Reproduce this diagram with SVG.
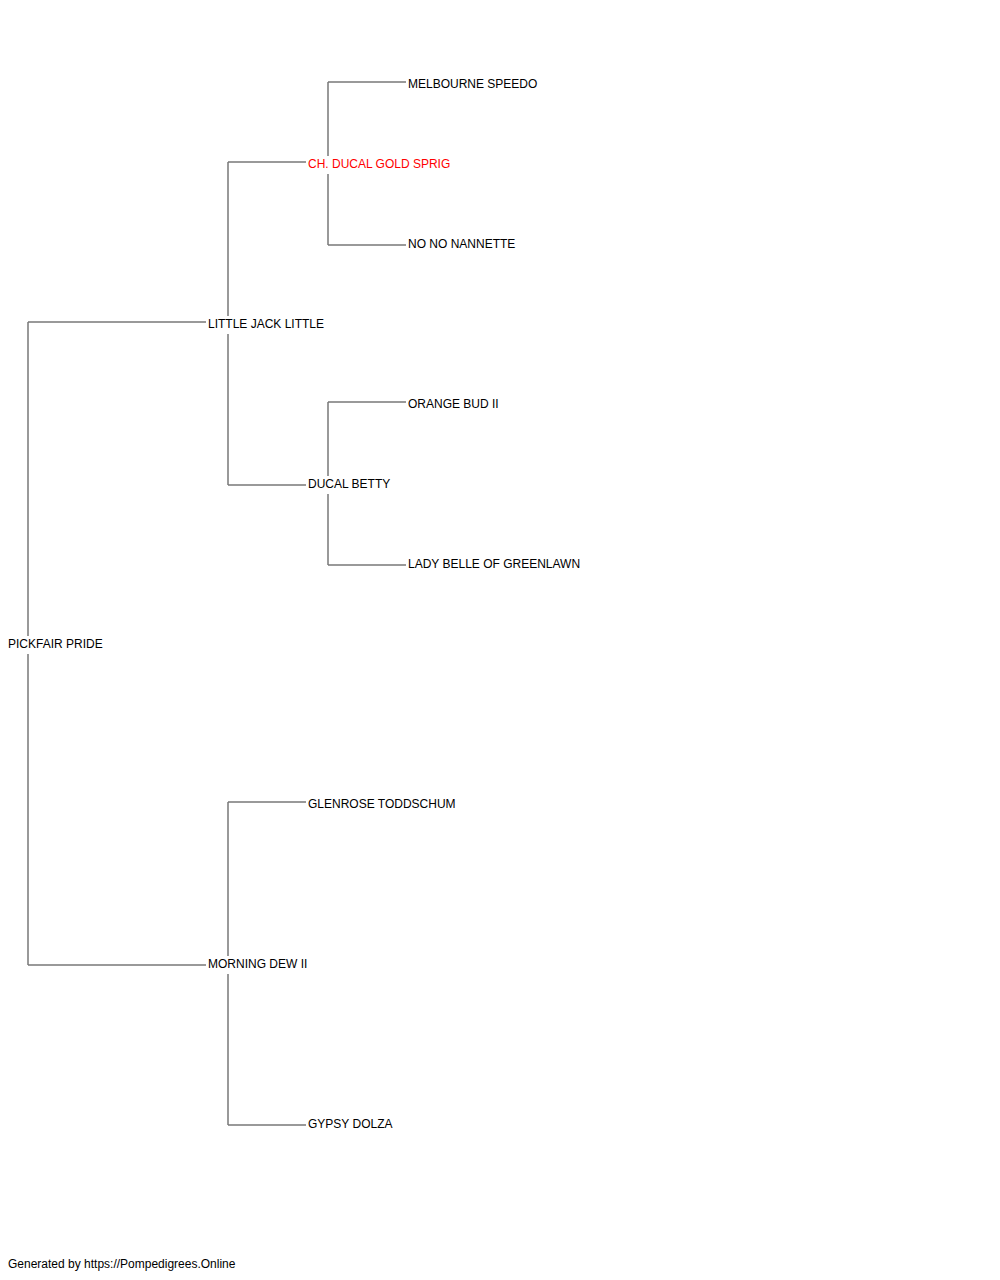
<svg xmlns="http://www.w3.org/2000/svg" width="1000" height="1280" viewBox="0 0 1000 1280">
<style>
text{font-family:"Liberation Sans",Arial,sans-serif;font-size:12px;fill:#000}
.red{fill:#ff0000}
#connectors line{stroke:#777;stroke-width:1.5}
</style>
<rect width="1000" height="1280" fill="#fff"/>
<g id="connectors">
<line x1="28" y1="322" x2="28" y2="636"/>
<line x1="28" y1="654" x2="28" y2="965"/>
<line x1="28" y1="322" x2="206" y2="322"/>
<line x1="28" y1="965" x2="206" y2="965"/>
<line x1="228" y1="162" x2="228" y2="316"/>
<line x1="228" y1="334" x2="228" y2="485"/>
<line x1="228" y1="162" x2="306" y2="162"/>
<line x1="228" y1="485" x2="306" y2="485"/>
<line x1="328" y1="82" x2="328" y2="156"/>
<line x1="328" y1="174" x2="328" y2="245"/>
<line x1="328" y1="82" x2="406" y2="82"/>
<line x1="328" y1="245" x2="406" y2="245"/>
<line x1="328" y1="402" x2="328" y2="476"/>
<line x1="328" y1="494" x2="328" y2="565"/>
<line x1="328" y1="402" x2="406" y2="402"/>
<line x1="328" y1="565" x2="406" y2="565"/>
<line x1="228" y1="802" x2="228" y2="956"/>
<line x1="228" y1="974" x2="228" y2="1125"/>
<line x1="228" y1="802" x2="306" y2="802"/>
<line x1="228" y1="1125" x2="306" y2="1125"/>
</g>
<g id="n-pickfair"><text x="8" y="648">PICKFAIR PRIDE</text></g>
<g id="n-littlejack"><text x="208" y="328">LITTLE JACK LITTLE</text></g>
<g id="n-ducalgold"><text class="red" x="308" y="168">CH. DUCAL GOLD SPRIG</text></g>
<g id="n-melbourne"><text x="408" y="88">MELBOURNE SPEEDO</text></g>
<g id="n-nonanette"><text x="408" y="248">NO NO NANNETTE</text></g>
<g id="n-ducalbetty"><text x="308" y="488">DUCAL BETTY</text></g>
<g id="n-orangebud"><text x="408" y="408">ORANGE BUD II</text></g>
<g id="n-ladybelle"><text x="408" y="568">LADY BELLE OF GREENLAWN</text></g>
<g id="n-morningdew"><text x="208" y="968">MORNING DEW II</text></g>
<g id="n-glenrose"><text x="308" y="808">GLENROSE TODDSCHUM</text></g>
<g id="n-gypsy"><text x="308" y="1128">GYPSY DOLZA</text></g>
<g id="footer"><text x="8" y="1268">Generated by https://Pompedigrees.Online</text></g>
</svg>
